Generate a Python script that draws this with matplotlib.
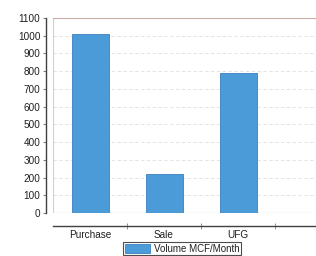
import matplotlib.pyplot as plt
from matplotlib.patches import Patch

plt.rcParams['font.family'] = ['Liberation Sans', 'DejaVu Sans']

categories = ['Purchase', 'Sale', 'UFG']
volume = [1010, 220, 790]
y_ticks = list(range(0, 1101, 100))
series_name = 'Volume MCF/Month'

W, H = 316, 256
fig = plt.figure(figsize=(W / 100, H / 100), dpi=100)
left, top, bottom = 53, 18, 213
ax = fig.add_axes([left / W, (H - bottom) / H, (W - left) / W, (bottom - top) / H])

x = list(range(len(categories)))
ax.bar(x, volume, width=0.5, color='#4b9bd9', edgecolor='#3a7fbf', linewidth=0.6, zorder=3)

ax.set_ylim(0, 1100)
ax.set_yticks(y_ticks)
ax.set_xlim(-0.5, (W - left) / 74 - 0.5)
ax.set_xticks(x)
ax.set_xticklabels(categories)
ax.set_xticks([0.5, 1.5, 2.5], minor=True)

ax.yaxis.grid(True, color='#dedede', linestyle=(0, (4, 3)), linewidth=0.6, zorder=0)
ax.axhline(0, color='#b0b0b0', linewidth=0.8, zorder=2)
ax.axvline(-0.5, color='#d0d0d0', linewidth=0.8, zorder=2)

ax.spines['right'].set_visible(False)
ax.spines['top'].set_color('#c9aca4')
ax.spines['top'].set_linewidth(0.8)
ax.spines['left'].set_position(('outward', 5))
ax.spines['left'].set_color('#404040')
ax.spines['left'].set_linewidth(1.0)
ax.spines['bottom'].set_position(('outward', 9))
ax.spines['bottom'].set_color('#404040')
ax.spines['bottom'].set_linewidth(1.0)

ax.tick_params(axis='y', labelsize=7.2, length=2, direction='out', color='#808080',
               pad=2, labelcolor='#202020')
ax.tick_params(axis='x', which='major', labelsize=7.2, length=0, pad=3, labelcolor='#202020')
ax.tick_params(axis='x', which='minor', length=4, direction='inout', color='#808080')

handles = [Patch(facecolor='#4b9bd9', edgecolor='#3a7fbf', linewidth=0.6)]
leg = fig.legend(handles, [series_name], loc='center', bbox_to_anchor=(182 / W, 1 - 248.5 / H),
                 fontsize=7, frameon=True, fancybox=False, handlelength=2.6, handleheight=1.1,
                 borderpad=0.15, handletextpad=0.35, borderaxespad=0)
for t in leg.get_texts():
    t.set_color('#202020')
leg.get_frame().set_edgecolor('#202020')
leg.get_frame().set_linewidth(0.8)

fig.savefig('out.png', dpi=100)
